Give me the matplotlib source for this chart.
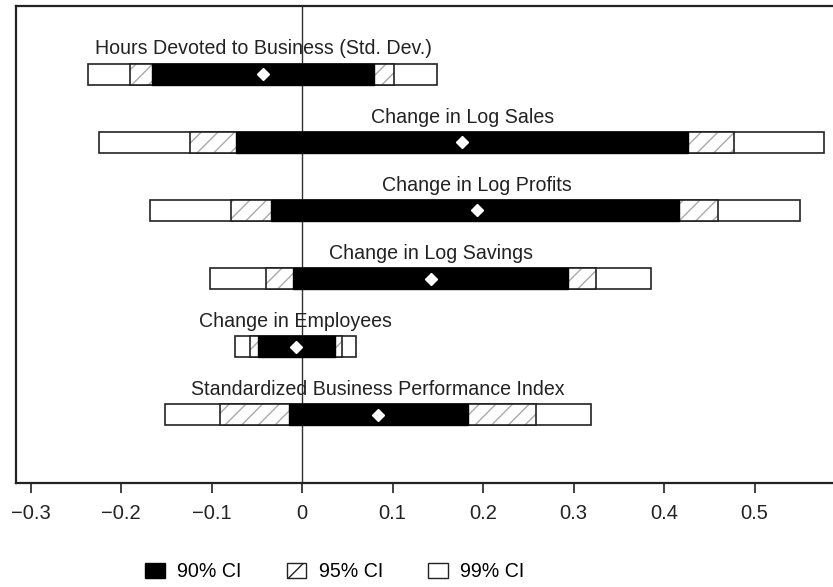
import matplotlib
matplotlib.use("Agg")
import matplotlib.pyplot as plt
from matplotlib.patches import Patch

plt.rcParams['font.family'] = ['Liberation Sans', 'DejaVu Sans']

# resultados (de cima para baixo)
labels = ["Hours Devoted to Business (Std. Dev.)",
          "Change in Log Sales",
          "Change in Log Profits",
          "Change in Log Savings",
          "Change in Employees",
          "Standardized Business Performance Index"]
estimate = [-0.043, 0.177, 0.193, 0.142, -0.007, 0.084]
ci90_lo = [-0.166, -0.073, -0.034, -0.010, -0.049, -0.014]
ci90_hi = [0.079, 0.427, 0.416, 0.294, 0.036, 0.183]
ci95_lo = [-0.190, -0.124, -0.078, -0.040, -0.058, -0.091]
ci95_hi = [0.102, 0.477, 0.460, 0.325, 0.044, 0.259]
ci99_lo = [-0.237, -0.224, -0.168, -0.102, -0.074, -0.151]
ci99_hi = [0.149, 0.577, 0.550, 0.386, 0.060, 0.319]

ticks = [-0.3, -0.2, -0.1, 0, 0.1, 0.2, 0.3, 0.4, 0.5]
tick_labels = ["\u22120.3", "\u22120.2", "\u22120.1", "0", "0.1", "0.2", "0.3", "0.4", "0.5"]
legend_labels = ["90% CI", "95% CI", "99% CI"]

fig = plt.figure(figsize=(8.33, 5.87), dpi=100)
ax = fig.add_axes([0.0188, 0.1772, 0.9812, 0.8126])

n = len(labels)
ys = [n - i for i in range(n)]
h = 0.31

def w(lo, hi):
  return [b - a for a, b in zip(lo, hi)]

ax.axvline(0, color="#333333", lw=1.0, zorder=1)

# 99%: caixa branca
ax.barh(ys, w(ci99_lo, ci99_hi), left=ci99_lo, height=h,
        color="white", edgecolor="#222222", lw=1.2, zorder=2)
# 95%: hachurado cinza
ax.barh(ys, w(ci95_lo, ci95_hi), left=ci95_lo, height=h,
        color="white", edgecolor="#aaaaaa", hatch="//", lw=0, zorder=3)
ax.barh(ys, w(ci95_lo, ci95_hi), left=ci95_lo, height=h,
        fill=False, edgecolor="#222222", lw=1.2, zorder=4)
# 90%: preto
ax.barh(ys, w(ci90_lo, ci90_hi), left=ci90_lo, height=h,
        color="black", edgecolor="black", lw=1.0, zorder=5)

ax.plot(estimate, ys, linestyle="none", marker="D", markersize=6.5,
        markerfacecolor="white", markeredgecolor="white", zorder=6)

for y, x, lab in zip(ys, estimate, labels):
  ax.text(x, y + 0.29, lab, ha="center", va="baseline", fontsize=14.1,
          color="#222222", zorder=7)

ax.set_xlim(-0.3164, 0.5867)
ax.set_ylim(0, 7)
ax.set_xticks(ticks)
ax.set_xticklabels(tick_labels)
ax.set_yticks([])
ax.tick_params(axis="x", direction="out", length=7, width=1.2, pad=8,
               labelsize=14.5, colors="#222222")
for s in ["left", "top", "bottom"]:
  ax.spines[s].set_linewidth(1.6)
  ax.spines[s].set_color("#222222")
ax.spines["right"].set_visible(False)

handles = [Patch(facecolor="black", edgecolor="black"),
           Patch(facecolor="white", edgecolor="#222222", hatch="/"),
           Patch(facecolor="white", edgecolor="#222222")]
fig.legend(handles, legend_labels, loc="center", bbox_to_anchor=(0.402, 0.0256),
           ncol=3, frameon=False, fontsize=14.1, handlelength=1.0,
           handleheight=0.8, handletextpad=0.64, columnspacing=2.3)

fig.savefig("out.png", dpi=100)
